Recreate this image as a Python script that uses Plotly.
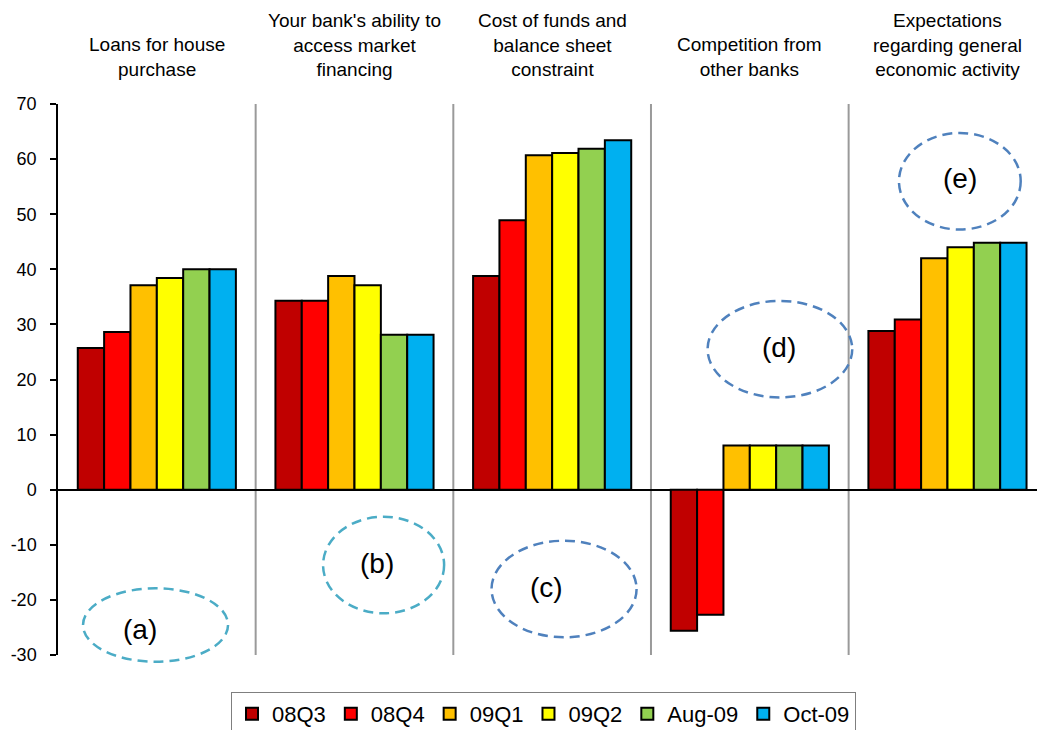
import plotly.graph_objects as go

# Survey factors (one group of bars per factor)
categories = [
    "Loans for house<br>purchase",
    "Your bank's ability to<br>access market<br>financing",
    "Cost of funds and<br>balance sheet<br>constraint",
    "Competition from<br>other banks",
    "Expectations<br>regarding general<br>economic activity",
]
panel_tags = ["(a)", "(b)", "(c)", "(d)", "(e)"]

# Net percentages per survey round
series_names = ["08Q3", "08Q4", "09Q1", "09Q2", "Aug-09", "Oct-09"]
v_08q3 = [25.7, 34.3, 38.8, -25.6, 28.8]
v_08q4 = [28.6, 34.3, 48.9, -22.7, 30.9]
v_09q1 = [37.1, 38.8, 60.7, 8.0, 42.0]
v_09q2 = [38.4, 37.1, 61.1, 8.0, 44.0]
v_aug09 = [40.0, 28.1, 61.9, 8.0, 44.8]
v_oct09 = [40.0, 28.1, 63.4, 8.0, 44.8]
series_values = [v_08q3, v_08q4, v_09q1, v_09q2, v_aug09, v_oct09]
series_colors = ["#C00000", "#FF0000", "#FFC000", "#FFFF00", "#92D050", "#00B0F0"]

y_ticks = [70, 60, 50, 40, 30, 20, 10, 0, -10, -20, -30]
y_tick_labels = ["70", "60", "50", "40", "30", "20", "10", "0", "-10", "-20", "-30"]

FONT = "Arial, Liberation Sans, sans-serif"
W, H = 1037, 730
left_px, top_px, bottom_px = 58.3, 103.7, 655.0
plot_h = bottom_px - top_px

x_pos = list(range(len(categories)))

fig = go.Figure()
for name, vals, col in zip(series_names, series_values, series_colors):
    fig.add_trace(go.Bar(
        x=x_pos, y=vals, name=name,
        marker=dict(color=col, line=dict(color="black", width=2)),
    ))

shapes = []
# grey separators between factor groups
for i in range(len(categories) - 1):
    shapes.append(dict(type="line", xref="x", yref="y", x0=i + 0.5, x1=i + 0.5,
                       y0=-30, y1=70, line=dict(color="#9a9a9a", width=2), layer="below"))


def px_to_paper_y(py):
    return (bottom_px - py) / plot_h


# dashed ellipses marking each panel: (x0, x1, y0, y1) in pixels, colour
ellipses = [
    ((83.3, 228.3, 588.3, 661.7), "#4BACC6"),
    ((323.3, 444.3, 516.7, 613.3), "#4BACC6"),
    ((491.7, 636.7, 540.7, 637.3), "#4F81BD"),
    ((707.7, 852.3, 300.7, 397.3), "#4F81BD"),
    ((899.0, 1020.7, 132.7, 229.3), "#4F81BD"),
]
tag_pos = [(140, 629), (377, 563), (547, 587), (779, 347), (960, 178)]

plot_w_px = W - left_px
x_min, x_max = -0.5, -0.5 + plot_w_px / 197.6


def px_to_x(px):
    return x_min + (px - left_px) / plot_w_px * (x_max - x_min)


for (x0, x1, y0, y1), col in ellipses:
    shapes.append(dict(type="circle", xref="x", yref="paper",
                       x0=px_to_x(x0), x1=px_to_x(x1),
                       y0=px_to_paper_y(y1), y1=px_to_paper_y(y0),
                       line=dict(color=col, width=2.5, dash="10px,6px")))

annotations = []
for i, txt in enumerate(categories):
    annotations.append(dict(x=i, xref="x", y=px_to_paper_y(82), yref="paper",
                            text=txt, showarrow=False, yanchor="bottom", xanchor="center",
                            align="center", font=dict(family=FONT, size=19, color="black")))
for tag, (tx, ty) in zip(panel_tags, tag_pos):
    annotations.append(dict(x=px_to_x(tx), xref="x", y=px_to_paper_y(ty), yref="paper",
                            text=tag, showarrow=False, xanchor="center", yanchor="middle",
                            font=dict(family=FONT, size=28, color="black")))

fig.update_layout(
    width=W, height=H,
    margin=dict(l=left_px, r=0, t=top_px, b=H - bottom_px, pad=0),
    paper_bgcolor="white", plot_bgcolor="white",
    barmode="group", bargap=0.2, bargroupgap=0,
    font=dict(family=FONT, size=18, color="black"),
    shapes=shapes, annotations=annotations,
    showlegend=True,
    legend=dict(orientation="h", xref="container", yref="container",
                x=231 / W, y=1 - 692 / H, xanchor="left", yanchor="top",
                bordercolor="#7f7f7f", borderwidth=1, bgcolor="white",
                font=dict(family=FONT, size=22, color="black"),
                traceorder="normal"),
    xaxis=dict(range=[x_min, x_max], showticklabels=False, showgrid=False,
               zeroline=False, showline=False, ticks="", fixedrange=True),
    yaxis=dict(range=[-30, 70], tickvals=y_ticks, ticktext=y_tick_labels,
               showgrid=False, zeroline=True, zerolinecolor="black", zerolinewidth=1.5,
               showline=True, linecolor="black", linewidth=1.5,
               ticks="outside", ticklen=6, tickcolor="black", tickwidth=1.5,
               ticklabelstandoff=10,
               tickfont=dict(family=FONT, size=18, color="black")),
)

fig.write_html("out.html")
